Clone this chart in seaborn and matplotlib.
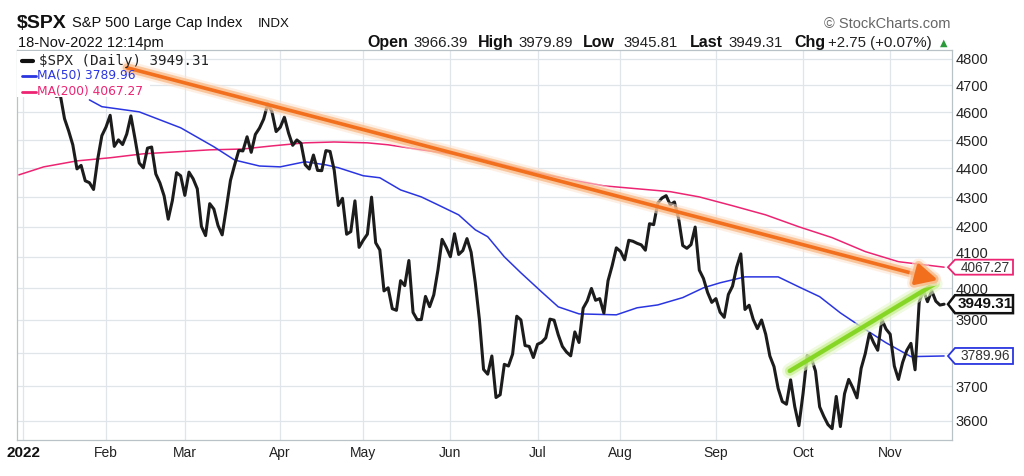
import numpy as np
import pandas as pd
import matplotlib
matplotlib.use("Agg")
import matplotlib.pyplot as plt
import matplotlib.patheffects as pe
from matplotlib.patches import Polygon, Rectangle
from matplotlib.lines import Line2D
from matplotlib.transforms import IdentityTransform
from matplotlib.ticker import NullLocator
import seaborn as sns

# ---------------- data ----------------
spx_jan = [4796.56, 4793.54, 4700.58, 4696.05, 4677.03, 4670.29, 4713.07, 4726.35, 4659.03, 4662.85,
           4577.11, 4532.76, 4482.73, 4397.94, 4410.13, 4356.45, 4349.93, 4326.51, 4431.85, 4515.55]
spx_feb = [4546.54, 4589.38, 4477.44, 4500.53, 4483.87, 4521.54, 4587.18, 4504.08, 4418.64, 4401.67,
           4471.07, 4475.01, 4380.26, 4348.87, 4304.76, 4225.50, 4288.70, 4384.65, 4373.94]
spx_mar = [4306.26, 4386.54, 4363.49, 4328.87, 4201.09, 4170.70, 4277.88, 4259.52, 4204.31, 4173.11,
           4262.45, 4357.86, 4411.67, 4463.12, 4461.18, 4511.61, 4456.24, 4520.16, 4543.06, 4575.52,
           4631.60, 4602.45, 4530.41]
spx_apr = [4545.86, 4582.64, 4525.12, 4481.15, 4500.21, 4488.28, 4412.53, 4397.45, 4446.59, 4392.59,
           4391.69, 4462.21, 4459.45, 4393.66, 4271.78, 4296.12, 4175.20, 4183.96, 4287.50, 4131.93]
spx_may = [4155.38, 4175.48, 4300.17, 4146.87, 4123.34, 3991.24, 4001.05, 3935.18, 3930.08, 4023.89,
           4008.01, 4088.85, 3923.68, 3900.79, 3901.36, 3973.75, 3941.48, 3978.73, 4057.84, 4158.24, 4132.15]
spx_jun = [4101.23, 4176.82, 4108.54, 4121.43, 4160.68, 4115.77, 4017.82, 3900.86, 3749.63, 3735.48,
           3789.99, 3666.77, 3674.84, 3764.79, 3759.89, 3795.73, 3911.74, 3900.11, 3821.55, 3818.83, 3785.38]
spx_jul = [3825.33, 3831.39, 3845.08, 3902.62, 3899.38, 3854.43, 3818.80, 3801.78, 3790.38, 3863.16,
           3830.85, 3936.69, 3959.90, 3998.95, 3961.63, 3966.84, 3921.05, 4023.61, 4072.43, 4130.29]
spx_aug = [4118.63, 4091.19, 4155.17, 4151.94, 4145.19, 4140.06, 4122.47, 4210.24, 4207.27, 4280.15,
           4297.14, 4305.20, 4274.04, 4283.74, 4228.48, 4137.99, 4128.73, 4140.77, 4199.12, 4057.66,
           4030.61, 3986.16, 3955.00]
spx_sep = [3966.85, 3924.26, 3908.19, 3979.87, 4006.18, 4067.36, 4110.41, 3932.69, 3946.01, 3901.35,
           3873.33, 3899.89, 3855.93, 3789.93, 3757.99, 3693.23, 3655.04, 3647.29, 3719.04, 3640.47, 3585.62]
spx_oct = [3678.43, 3790.93, 3783.28, 3744.52, 3639.66, 3612.39, 3588.84, 3577.03, 3669.91, 3583.07,
           3677.95, 3719.98, 3695.16, 3665.78, 3752.75, 3797.34, 3859.11, 3830.60, 3807.30, 3901.06, 3871.98]
spx_nov = [3856.10, 3759.69, 3719.89, 3770.55, 3806.80, 3828.11, 3748.57, 3956.37, 3992.93, 3957.25,
           3991.73, 3958.79, 3946.56, 3949.31]

# moving averages (trading-day index, value)
ma50_day = [16, 19, 28, 38, 46, 51, 57, 62, 68, 73, 76, 82, 86, 91, 96, 100, 105, 109, 112, 116,
            120, 125, 129, 134, 143, 148, 153, 159, 164, 168, 174, 182, 187, 192, 197, 202, 208, 214, 222]
ma50_value = [4646, 4621, 4602, 4544, 4476, 4429, 4408, 4405, 4423, 4412, 4402, 4374, 4367, 4325, 4301,
              4274, 4240, 4190, 4167, 4101, 4049, 3988, 3941, 3919, 3916, 3938, 3947, 3970, 4001, 4017,
              4036, 4036, 4004, 3973, 3922, 3879, 3830, 3788, 3789.96]
ma200_day = [-1, 5, 13, 21, 29, 37, 45, 53, 60, 68, 75, 83, 88, 96, 105, 110, 116, 124, 132, 140,
             148, 156, 163, 171, 179, 187, 195, 203, 211, 222]
ma200_value = [4377, 4405, 4426, 4437, 4451, 4458, 4465, 4468, 4479, 4490, 4493, 4490, 4483, 4465, 4447,
               4437, 4412, 4384, 4360, 4339, 4329, 4319, 4301, 4271, 4240, 4200, 4164, 4118, 4085, 4067.27]

month_start_day = [0, 20, 39, 62, 82, 103, 124, 144, 167, 188, 209]
month_labels = ["2022", "Feb", "Mar", "Apr", "May", "Jun", "Jul", "Aug", "Sep", "Oct", "Nov"]
price_ticks = [3600, 3700, 3800, 3900, 4000, 4100, 4200, 4300, 4400, 4500, 4600, 4700, 4800]
hidden_tick_labels = [3800]   # covered by the MA(50) value tag in the original
raised_tick_labels = [4100]   # sits just above the MA(200) value tag

last_spx, last_ma50, last_ma200 = 3949.31, 3789.96, 4067.27
quote_labels = ["Open", "High", "Low", "Last", "Chg"]
quote_values = ["3966.39", "3979.89", "3945.81", "3949.31", "+2.75 (+0.07%)"]

orange_trend = [(25.1, 4766), (220.5, 4026)]
green_trend = [(184.8, 3745), (219.8, 4014)]

spx_close = (spx_jan + spx_feb + spx_mar + spx_apr + spx_may + spx_jun + spx_jul +
             spx_aug + spx_sep + spx_oct + spx_nov)
df = pd.DataFrame({"day": np.arange(len(spx_close)), "close": spx_close})
df50 = pd.DataFrame({"day": ma50_day, "ma": ma50_value})
df200 = pd.DataFrame({"day": ma200_day, "ma": ma200_value})

# ---------------- style ----------------
sns.set_theme(style="white")
plt.rcParams["font.family"] = ["Liberation Sans", "DejaVu Sans"]

W, H = 1024, 476
fig = plt.figure(figsize=(W / 100, H / 100), dpi=100)
fig.patch.set_facecolor("white")
ax = fig.add_axes([17 / W, 36 / H, 935 / W, 390 / H])
ax.set_facecolor("white")

BLUE = "#2a35e0"
PINK = "#ec2472"

sns.lineplot(data=df200, x="day", y="ma", color=PINK, lw=1.1, ax=ax, zorder=2)
sns.lineplot(data=df50, x="day", y="ma", color=BLUE, lw=1.1, ax=ax, zorder=2)
sns.lineplot(data=df, x="day", y="close", color="#1c1c1c", lw=2.2, ax=ax, zorder=2.5)

ax.set_yscale("log")
ax.set_xlim(-1.45, 223.9)
ax.set_ylim(3545, 4834)
ax.set_xticks(month_start_day)
ax.set_xticklabels(month_labels)
ax.set_yticks(price_ticks)
ax.set_yticklabels(["" if (t in hidden_tick_labels or t in raised_tick_labels) else str(t)
                    for t in price_ticks])
ax.yaxis.set_minor_locator(NullLocator())
ax.xaxis.set_minor_locator(NullLocator())
ax.yaxis.tick_right()
ax.set_xlabel("")
ax.set_ylabel("")
ax.grid(True, color="#dfe5e9", lw=0.9)
ax.set_axisbelow(True)
for s in ax.spines.values():
    s.set_color("#b9c2c6")
    s.set_linewidth(0.9)
ax.tick_params(axis="both", length=0)
ax.tick_params(axis="y", pad=2.5, labelsize=10.5, labelcolor="#222222")
ax.tick_params(axis="x", pad=4, labelsize=10, labelcolor="#222222")
for lab in ax.get_xticklabels():
    if lab.get_text() == "2022":
        lab.set_fontweight("bold")
        lab.set_fontsize(11)
        lab.set_color("#111111")

# raised tick label(s), nudged above the value tag
for t in raised_tick_labels:
    _, yt = ax.transData.transform((0, t))
    fig.text(955.5, yt + 3, str(t), transform=IdentityTransform(), ha="left", va="center",
             fontsize=10.5, color="#222222", zorder=4)

# white legend background
ax.add_patch(Rectangle((17 / W, 1 - 97 / H), (150 - 17) / W, (97 - 51) / H,
                       transform=fig.transFigure, facecolor="white", edgecolor="none",
                       zorder=3, clip_on=False))

# trend arrows with glow
glow_o = [pe.Stroke(linewidth=10, foreground="#fde3cf", alpha=0.55),
          pe.Stroke(linewidth=6.5, foreground="#f9b47c", alpha=0.7), pe.Normal()]
ax.annotate("", xy=orange_trend[1], xytext=orange_trend[0],
            arrowprops=dict(arrowstyle="-|>,head_length=1.1,head_width=0.55", color="#f26f1e",
                            lw=2.6, shrinkA=0, shrinkB=0, path_effects=glow_o), zorder=5)
glow_g = [pe.Stroke(linewidth=11, foreground="#e6f8cc", alpha=0.6),
          pe.Stroke(linewidth=7, foreground="#c5ee8a", alpha=0.7), pe.Normal()]
ax.annotate("", xy=green_trend[1], xytext=green_trend[0],
            arrowprops=dict(arrowstyle="-", color="#86d626", lw=3.2, shrinkA=0, shrinkB=0,
                            path_effects=glow_g), zorder=4.8)


def ftext(x, y, s, **kw):
    kw.setdefault("va", "baseline")
    return fig.text(x / W, 1 - y / H, s, **kw)


# legend
fig.add_artist(Line2D([22 / W, 33 / W], [1 - 61 / H] * 2, color="#111111", lw=3, transform=fig.transFigure))
fig.add_artist(Line2D([22 / W, 36 / W], [1 - 76 / H] * 2, color=BLUE, lw=2, transform=fig.transFigure))
fig.add_artist(Line2D([22 / W, 36 / W], [1 - 92 / H] * 2, color=PINK, lw=2, transform=fig.transFigure))
ftext(39, 61, f"$SPX (Daily) {last_spx:.2f}", va="center", family="DejaVu Sans Mono", fontsize=10.2,
      color="#222222")
ftext(37, 76, f"MA(50) {last_ma50:.2f}", va="center", family="DejaVu Sans", fontsize=8.8, color=BLUE)
ftext(37, 92, f"MA(200) {last_ma200:.2f}", va="center", family="DejaVu Sans", fontsize=8.8, color=PINK)

# header
ftext(17, 28, "$SPX", fontsize=14, fontweight="bold", color="#111111")
ftext(72, 27, "S&P 500 Large Cap Index", fontsize=10.5, color="#111111")
ftext(258, 27, "INDX", fontsize=9.5, color="#111111")
ftext(18, 47, "18-Nov-2022 12:14pm", fontsize=10.5, color="#111111")
ftext(950, 28, "\u00a9 StockCharts.com", ha="right", fontsize=10.5, color="#666666")
label_x = [367, 478, 583, 690, 794]
value_x = [413, 518, 623, 728, 828]
for lx, vx, lab, val in zip(label_x, value_x, quote_labels, quote_values):
    ftext(lx, 47, lab, fontsize=11.5, fontweight="bold", color="#111111")
    ftext(vx, 47, val, fontsize=10.8, color="#222222")
ftext(944, 46, "\u25b2", ha="center", family="DejaVu Sans", fontsize=7, color="#2a9a3a")


# right-side value tags
def tag(value, edge, txtcolor, bold=False, half=8, dy=0):
    _, yc = ax.transData.transform((0, value))
    x0, x1, tip = 955, 1013, 948
    verts = [(tip, yc), (x0, yc + half), (x1, yc + half), (x1, yc - half), (x0, yc - half)]
    fig.add_artist(Polygon(verts, closed=True, facecolor="white", edgecolor=edge,
                           lw=1.8 if bold else 1.3, transform=IdentityTransform(), zorder=6))
    t = fig.text((x0 + x1) / 2 + 1, yc + dy, f"{value:.2f}", transform=IdentityTransform(),
                 ha="center", va="center", fontsize=11 if bold else 9.8,
                 fontweight="bold" if bold else "normal", color=txtcolor, zorder=7)
    return t


tag(last_ma200, PINK, "#333333", half=7.5, dy=-1)
tag(last_spx, "#111111", "#111111", bold=True, half=9)
tag(last_ma50, BLUE, "#333333")

fig.savefig("out.png", dpi=100)
